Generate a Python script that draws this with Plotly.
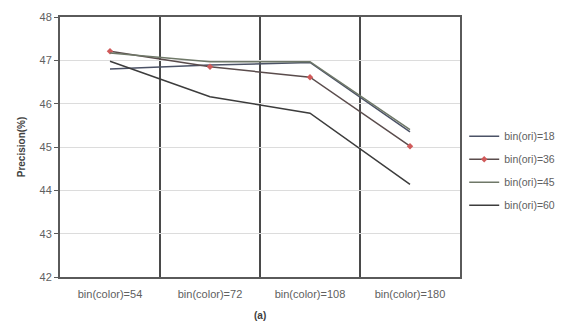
import plotly.graph_objects as go

# Categories along the x axis
categories = ["bin(color)=54", "bin(color)=72", "bin(color)=108", "bin(color)=180"]

# Precision (%) for each orientation bin count
ori_18 = [46.80, 46.89, 46.95, 45.35]
ori_36 = [47.21, 46.85, 46.61, 45.02]
ori_45 = [47.17, 46.97, 46.97, 45.40]
ori_60 = [46.98, 46.16, 45.78, 44.14]

series_names = ["bin(ori)=18", "bin(ori)=36", "bin(ori)=45", "bin(ori)=60"]
series_values = [ori_18, ori_36, ori_45, ori_60]
line_colors = ["#4b5266", "#5a4c4c", "#6f7868", "#3c3c3c"]

x_pos = list(range(len(categories)))

fig = go.Figure()
for name, vals, col in zip(series_names, series_values, line_colors):
    is_marked = name == "bin(ori)=36"
    fig.add_trace(go.Scatter(
        x=x_pos, y=vals, name=name, legendgroup=name,
        mode="lines+markers" if is_marked else "lines",
        line=dict(color=col, width=1.5),
        marker=dict(size=5, color="#d05a5a", symbol="diamond") if is_marked else dict(size=1),
    ))

fig.update_layout(
    width=562, height=322,
    margin=dict(l=60, r=102, t=17, b=45, autoexpand=False),
    paper_bgcolor="white", plot_bgcolor="white",
    font=dict(family="Liberation Sans, Arial, sans-serif", color="#595959", size=11),
    showlegend=True,
    legend=dict(
        xref="container", yref="container",
        x=0.826, y=0.47, xanchor="left", yanchor="middle",
        font=dict(size=10.5, color="#606060"),
        tracegroupgap=4, itemwidth=30,
        bgcolor="rgba(0,0,0,0)",
    ),
    annotations=[dict(
        text="<b>(a)</b>", x=0.5, y=-0.12, xref="paper", yref="paper",
        showarrow=False, font=dict(size=10, color="#404040"),
        xanchor="center", yanchor="top",
    )],
)

fig.update_xaxes(
    range=[-0.5, 3.5],
    tickvals=x_pos, ticktext=categories,
    showgrid=False, zeroline=False,
    showline=True, linecolor="#5a5a5a", linewidth=2, mirror=True,
    ticks="", ticklabelstandoff=6, tickfont=dict(size=11, color="#606060"),
    minor=dict(tick0=0.5, dtick=1, showgrid=True, gridcolor="#4a4a4a", gridwidth=1.5, ticks=""),
)

fig.update_yaxes(
    range=[42, 48], dtick=1,
    showgrid=True, gridcolor="#dcdcdc", gridwidth=1,
    zeroline=False,
    showline=True, linecolor="#5a5a5a", linewidth=2, mirror=True,
    ticks="outside", ticklen=4, tickcolor="#5a5a5a",
    tickfont=dict(size=11, color="#606060"),
    title=dict(text="<b>Precision(%)</b>", font=dict(size=10, color="#404040"), standoff=12),
)

fig.write_html("out.html")
